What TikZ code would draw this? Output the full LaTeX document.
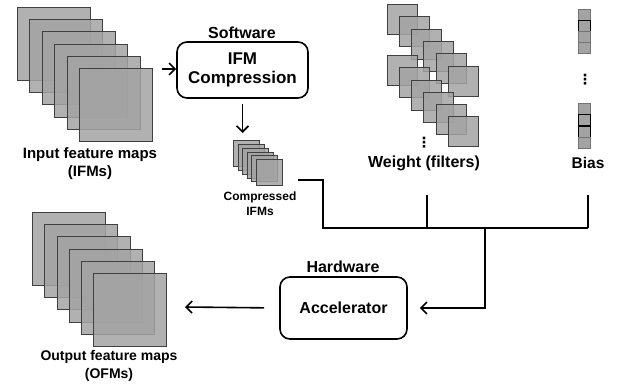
\documentclass[tikz,border=0pt]{standalone}
\usepackage{fontspec}
\setmainfont{Liberation Sans}
\newfontfamily\symfont{DejaVu Sans}
\usetikzlibrary{positioning,arrows.meta}
\tikzset{
  fmap/.style={draw=black!75, fill=black!36, fill opacity=0.85, line width=1pt,
    minimum size=73pt, inner sep=0pt, anchor=north west},
  cmap/.style={fmap, minimum size=26pt, line width=0.8pt},
  wmap/.style={fmap, minimum size=30pt, line width=0.9pt},
  bcell/.style={draw=black!55, fill=black!36, line width=0.8pt, minimum width=12pt,
    minimum height=11pt, inner sep=0pt, anchor=north west},
  bsel/.style={bcell, draw=black},
  block/.style={draw, rounded corners=10pt, line width=1.6pt, align=center},
  lbl/.style={align=center, font=\fontsize{15}{18}\selectfont\bfseries},
  small/.style={align=center, font=\fontsize{12}{15}\selectfont\bfseries},
  dots/.style={inner sep=0pt, font=\fontsize{14}{14}\selectfont\symfont\bfseries},
  wire/.style={line width=1.6pt, -{Straight Barb[length=6pt,width=12pt,line width=1.6pt]}}
}
\begin{document}
\begin{tikzpicture}[x=1pt,y=-1pt]
      \useasboundingbox (0,0) rectangle (623,388);
      % input feature maps
      \node[fmap] (i0) at (17,7) {};
      \node[fmap] (i1) at (29,19) {};
      \node[fmap] (i2) at (42,31) {};
      \node[fmap] (i3) at (54,44) {};
      \node[fmap] (i4) at (67,56) {};
      \node[fmap] (i5) at (79,68) {};
      \node[lbl] (ifmlbl) at (90,164) {Input feature maps\\(IFMs)};
      % output feature maps
      \node[fmap] (o0) at (32,212) {};
      \node[fmap] (o1) at (44,224) {};
      \node[fmap] (o2) at (57,236) {};
      \node[fmap] (o3) at (69,249) {};
      \node[fmap] (o4) at (81,261) {};
      \node[fmap] (o5) at (93,273) {};
      \node[lbl, font=\fontsize{14}{18}\selectfont\bfseries] (ofmlbl) at (109,366) {Output feature maps\\(OFMs)};
      % compressed IFMs
      \node[cmap] (c0) at (233,140) {};
      \node[cmap] (c1) at (238,144) {};
      \node[cmap] (c2) at (242,148) {};
      \node[cmap] (c3) at (247,152) {};
      \node[cmap] (c4) at (251,155) {};
      \node[cmap] (c5) at (256,159) {};
      \node[small] (cmplbl) at (260,204) {Compressed\\IFMs};
      % weights
      \node[wmap] (wa0) at (387,4) {};
      \node[wmap] (wa1) at (399,16) {};
      \node[wmap] (wa2) at (411,29) {};
      \node[wmap] (wa3) at (423,41) {};
      \node[wmap] (wa4) at (436,53) {};
      \node[wmap] (wa5) at (448,66) {};
      \node[wmap] (wb0) at (387,55) {};
      \node[wmap] (wb1) at (399,67) {};
      \node[wmap] (wb2) at (411,80) {};
      \node[wmap] (wb3) at (423,92) {};
      \node[wmap] (wb4) at (436,104) {};
      \node[wmap] (wb5) at (448,116) {};
      \node[dots] (wdots) at (424,143) {⋮};
      \node[lbl, font=\fontsize{16}{18}\selectfont\bfseries] (wlbl) at (424,163) {Weight (filters)};
      % bias
      \node[bcell] (b0) at (578,9) {};
      \node[bsel] (b1) at (578,20) {};
      \node[bcell] (b2) at (578,31) {};
      \node[bcell] (b3) at (578,42) {};
      \node[bcell] (b4) at (578,103) {};
      \node[bsel] (b5) at (578,114) {};
      \node[bsel] (b6) at (578,126) {};
      \node[bcell] (b7) at (578,137) {};
      \node[dots] (bdots) at (585,80) {⋮};
      \node[lbl, font=\fontsize{15.5}{18}\selectfont\bfseries] (blbl) at (588,163) {Bias};
      % blocks
      \node[block, minimum width=131pt, minimum height=56pt,
        font=\fontsize{17}{19}\selectfont\bfseries] (swbox) at (242.5,70) {IFM\\Compression};
      \node[lbl, font=\fontsize{16}{16}\selectfont\bfseries] (swlbl) at (242,33) {Software};
      \node[block, minimum width=127pt, minimum height=62pt,
        font=\fontsize{16}{19}\selectfont\bfseries] (accbox) at (343.5,308) {Accelerator};
      \node[lbl, font=\fontsize{16}{16}\selectfont\bfseries] (hwlbl) at (343,267) {Hardware};
      % connectors
      \coordinate (ifmout) at (162,69);
      \coordinate (cout) at (298,180);
      \coordinate (bl) at (323,228);
      \coordinate (bj) at (485,228);
      \coordinate (br) at (588,228);
      \coordinate (wtop) at (427,195);
      \coordinate (btop) at (588,195);
      \coordinate (ofmin) at (185,307);
      \begin{scope}[wire]
        \draw (ifmout) -- (ifmout -| swbox.west);
        \draw[shorten <=5pt, shorten >=7pt] (swbox.south) -- (swbox.south |- c0.north);
        \draw[-] (cout) -| (bl) -- (br);
        \draw[-] (wtop) -- (wtop |- bl);
        \draw[-] (btop) -- (br);
        \draw[shorten >=12pt] (bj) |- (accbox.east);
        \draw[shorten <=15pt] (accbox.west) -- (ofmin);
      \end{scope}
    \end{tikzpicture}
\end{document}
